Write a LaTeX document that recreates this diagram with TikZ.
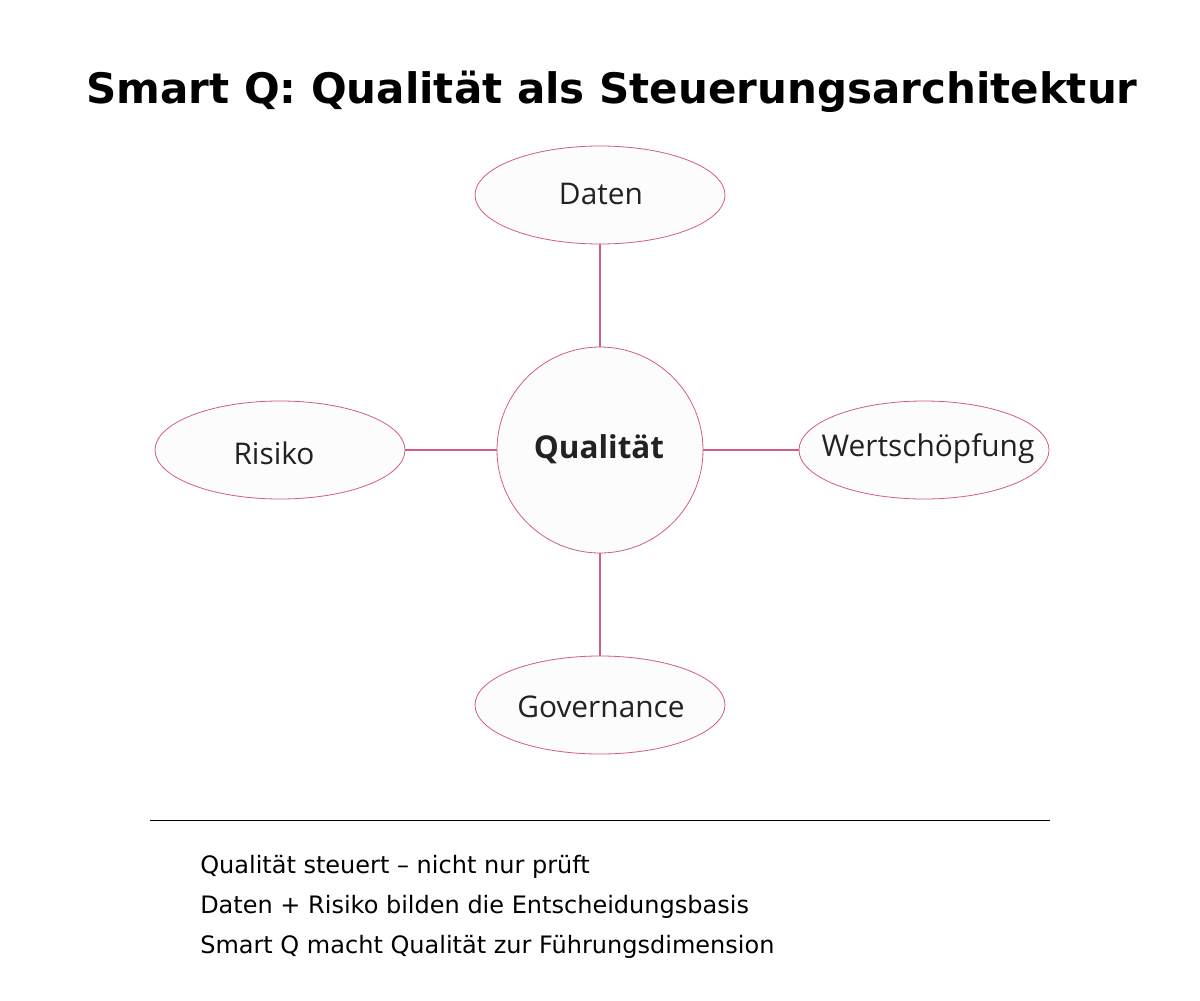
\documentclass[tikz,border=0pt]{standalone}
\usepackage{fontspec}
\setmainfont{DejaVu Sans}
\newfontfamily\nodefont{Open Sans}
\usetikzlibrary{shapes.geometric}
\definecolor{edgepink}{HTML}{D25C86}
\definecolor{nodefill}{HTML}{FCFCFC}
\definecolor{nodetext}{HTML}{222222}
\tikzset{
  pillnode/.style={ellipse, draw=edgepink, fill=nodefill, line width=0.6pt,
    minimum width=187.5pt, minimum height=73.5pt, inner sep=0pt},
  hubnode/.style={circle, draw=edgepink, fill=nodefill, line width=0.6pt,
    minimum size=154.5pt, inner sep=0pt},
  pilltext/.style={inner sep=0pt, font=\nodefont\fontsize{22.4}{26}\selectfont, text=nodetext},
  hubtext/.style={inner sep=0pt, font=\nodefont\bfseries\fontsize{23.6}{28}\selectfont, text=nodetext},
  spoke/.style={draw=edgepink, line width=1.3pt},
  noteline/.style={anchor=base west, font=\fontsize{18}{21}\selectfont, inner sep=0pt}
}
\begin{document}
\begin{tikzpicture}[x=0.75pt,y=-0.75pt]
\useasboundingbox (0,0) rectangle (1200,1000);
\node[anchor=base, font=\bfseries\fontsize{31.5}{37}\selectfont, inner sep=0pt] (title) at (612,103) {Smart Q: Qualität als Steuerungsarchitektur};
\node[hubnode] (qual) at (600,450) {};
\node[pillnode] (daten) at (600,195) {};
\node[pillnode] (risiko) at (280,450) {};
\node[pillnode] (wert) at (924,450) {};
\node[pillnode] (gov) at (600,705) {};
\node[hubtext] (qualt) at (599,449) {Qualität};
\node[pilltext] (datent) at (601,194) {Daten};
\node[pilltext] (risikot) at (274,453) {Risiko};
\node[pilltext] (wertt) at (928,449) {Wertschöpfung};
\node[pilltext] (govt) at (601,707) {Governance};
\draw[spoke] (daten) -- (qual);
\draw[spoke] (risiko) -- (qual);
\draw[spoke] (wert) -- (qual);
\draw[spoke] (gov) -- (qual);
\coordinate (sepL) at (150,820);
\coordinate (sepR) at (1050,820);
\draw[line width=0.6pt] (sepL) -- (sepR);
\node[noteline] (n1) at (200,873) {Qualität steuert – nicht nur prüft};
\node[noteline] (n2) at (200,913) {Daten + Risiko bilden die Entscheidungsbasis};
\node[noteline] (n3) at (200,953) {Smart Q macht Qualität zur Führungsdimension};
\end{tikzpicture}
\end{document}
